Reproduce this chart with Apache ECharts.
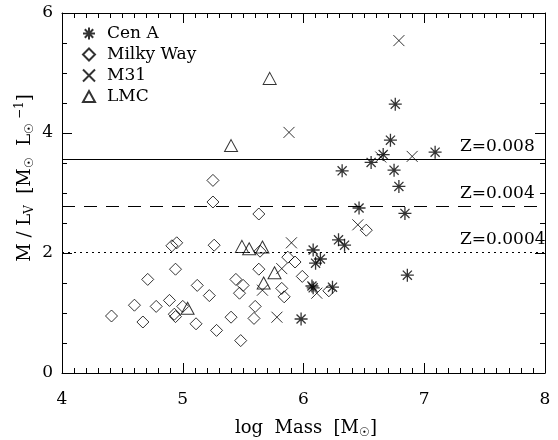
<!DOCTYPE html>
<html>
<head>
<meta charset="utf-8">
<script src="https://cdn.jsdelivr.net/npm/echarts@6/dist/echarts.min.js"></script>
<style>
html,body{margin:0;padding:0;background:#fff;}
#chart{width:558px;height:440px;}
</style>
</head>
<body>
<div id="chart"></div>
<script>
// ---- data (log Mass, M/L_V) ----
var cenA = [
  [5.98,0.90],[6.07,1.45],[6.08,1.42],[6.24,1.43],[6.08,2.05],[6.10,1.83],[6.14,1.90],
  [6.29,2.22],[6.34,2.13],[6.46,2.75],[6.84,2.66],[6.86,1.63],[6.32,3.37],[6.56,3.51],
  [6.66,3.64],[6.72,3.88],[6.76,4.48],[6.75,3.38],[6.79,3.11],[7.09,3.68]
];
var milkyWay = [
  [5.25,3.21],[5.25,2.85],[5.63,2.65],[4.91,2.12],[4.95,2.17],[5.26,2.13],[5.64,2.03],
  [4.94,1.73],[4.71,1.56],[5.12,1.46],[5.22,1.29],[5.44,1.56],[5.50,1.46],[5.47,1.33],
  [5.63,1.73],[5.82,1.41],[5.84,1.27],[5.87,1.93],[5.93,1.85],[5.99,1.61],[4.60,1.13],
  [4.78,1.11],[4.89,1.21],[4.41,0.95],[4.67,0.85],[4.93,0.98],[4.94,0.94],[5.00,1.11],
  [5.11,0.82],[5.28,0.71],[5.40,0.93],[5.48,0.54],[5.60,1.11],[5.59,0.91],[6.21,1.37],
  [6.52,2.38]
];
var m31 = [
  [5.88,4.01],[5.78,0.93],[5.66,1.38],[5.82,1.74],[5.90,2.17],[6.11,1.33],[6.45,2.47],
  [6.79,5.54],[6.90,3.61],[6.64,3.60]
];
var lmc = [
  [5.40,3.79],[5.72,4.91],[5.49,2.11],[5.55,2.07],[5.66,2.10],[5.76,1.67],[5.67,1.50],
  [5.04,1.08]
];
var zValues = [3.56, 2.78, 2.02];
var zLabels = ['Z=0.008', 'Z=0.004', 'Z=0.0004'];
var zTypes = ['solid', 'dashed', 'dotted'];
var xTicks = [4, 8, 1];
var yTicks = [0, 6, 2];

var FONT = 'DejaVu Serif';
var symAster = 'path://M5,0L5,10M0,5L10,5M1.5,1.5L8.5,8.5M8.5,1.5L1.5,8.5';
var symDiamond = 'path://M5,0L10,5L5,10L0,5Z';
var symX = 'path://M0,0L10,10M10,0L0,10';
var symTri = 'path://M5,0L10,9L0,9Z';

function sc(name, data, sym, size, bw, extra) {
  var s = {
    name: name, type: 'scatter', data: data, symbol: sym, symbolSize: size,
    itemStyle: {color: 'rgba(0,0,0,0)', borderColor: '#000', borderWidth: bw},
    emphasis: {disabled: true}, silent: true, z: 3
  };
  if (extra) for (var k in extra) s[k] = extra[k];
  return s;
}

var chart = echarts.init(document.getElementById('chart'), null, {renderer: 'canvas'});

function xAx(pos, showLabel) {
  return {
    type: 'value', position: pos, min: xTicks[0], max: xTicks[1], interval: xTicks[2],
    axisLine: {show: true, onZero: false, lineStyle: {color: '#000', width: 1}},
    axisTick: {show: true, inside: true, length: 10, lineStyle: {color: '#000'}},
    minorTick: {show: true, splitNumber: 10, length: 5, lineStyle: {color: '#000'}},
    splitLine: {show: false}, minorSplitLine: {show: false},
    axisLabel: {show: showLabel, color: '#000', fontFamily: FONT, fontSize: 17, margin: 18}
  };
}
function yAx(pos, showLabel) {
  return {
    type: 'value', position: pos, min: yTicks[0], max: yTicks[1], interval: yTicks[2],
    axisLine: {show: true, onZero: false, lineStyle: {color: '#000', width: 1}},
    axisTick: {show: true, inside: true, length: 10, lineStyle: {color: '#000'}},
    minorTick: {show: true, splitNumber: 4, length: 5, lineStyle: {color: '#000'}},
    splitLine: {show: false}, minorSplitLine: {show: false},
    axisLabel: {show: showLabel, color: '#000', fontFamily: FONT, fontSize: 17, margin: 9}
  };
}

var markData = zValues.map(function (v, i) {
  return {yAxis: v, lineStyle: {type: zTypes[i] === 'dashed' ? [13, 9] : (zTypes[i] === 'dotted' ? [2, 4] : 'solid'), color: '#000', width: 1}};
});

var option = {
  animation: false,
  backgroundColor: '#fff',
  grid: {left: 62, right: 13, top: 13, bottom: 67},
  xAxis: [xAx('bottom', true), xAx('top', false)],
  yAxis: [yAx('left', true), yAx('right', false)],
  legend: {
    orient: 'vertical', left: 82, top: 25, padding: 0, itemWidth: 12, itemHeight: 12, itemGap: 4,
    selectedMode: false,
    textStyle: {fontFamily: FONT, fontSize: 17, color: '#000', padding: [0, 0, 0, 7]},
    data: ['Cen A', 'Milky Way', 'M31', 'LMC']
  },
  series: [
    sc('Cen A', cenA, symAster, 13, 1.3, {markLine: {silent: true, symbol: 'none', label: {show: false}, data: markData, z: 1}}),
    sc('Milky Way', milkyWay, symDiamond, 12, 1),
    sc('M31', m31, symX, 11, 1),
    sc('LMC', lmc, symTri, [13, 12], 1)
  ]
};
chart.setOption(option);

var graphics = [];
zValues.forEach(function (v, i) {
  var p = chart.convertToPixel({xAxisIndex: 0, yAxisIndex: 0}, [7.3, v]);
  graphics.push({
    type: 'text', x: 460, y: p[1] - 4, silent: true,
    style: {text: zLabels[i], fill: '#000', font: '17px "' + FONT + '"', textAlign: 'left', textVerticalAlign: 'bottom'}
  });
});
graphics.push({
  type: 'text', x: 306, y: 428, silent: true,
  style: {
    text: '{a|log  Mass  [M}{s|☉}{a|]}',
    textAlign: 'center', textVerticalAlign: 'middle', fill: '#000',
    rich: {
      a: {fontFamily: FONT, fontSize: 18, lineHeight: 22, verticalAlign: 'middle', fill: '#000'},
      s: {fontFamily: FONT, fontSize: 12, lineHeight: 12, verticalAlign: 'bottom', fill: '#000'}
    }
  }
});
graphics.push({
  type: 'text', x: 25, y: 178, rotation: Math.PI / 2, silent: true,
  style: {
    text: '{a|M / L}{s|V}{a|  [M}{s|☉}{a|  L}{s|☉}{p| −1}{a|]}',
    textAlign: 'center', textVerticalAlign: 'middle', fill: '#000',
    rich: {
      a: {fontFamily: FONT, fontSize: 18, lineHeight: 22, verticalAlign: 'middle', fill: '#000'},
      s: {fontFamily: FONT, fontSize: 12, lineHeight: 12, verticalAlign: 'bottom', fill: '#000'},
      p: {fontFamily: FONT, fontSize: 12, lineHeight: 12, verticalAlign: 'top', fill: '#000'}
    }
  }
});
chart.setOption({graphic: graphics});
</script>
</body>
</html>
